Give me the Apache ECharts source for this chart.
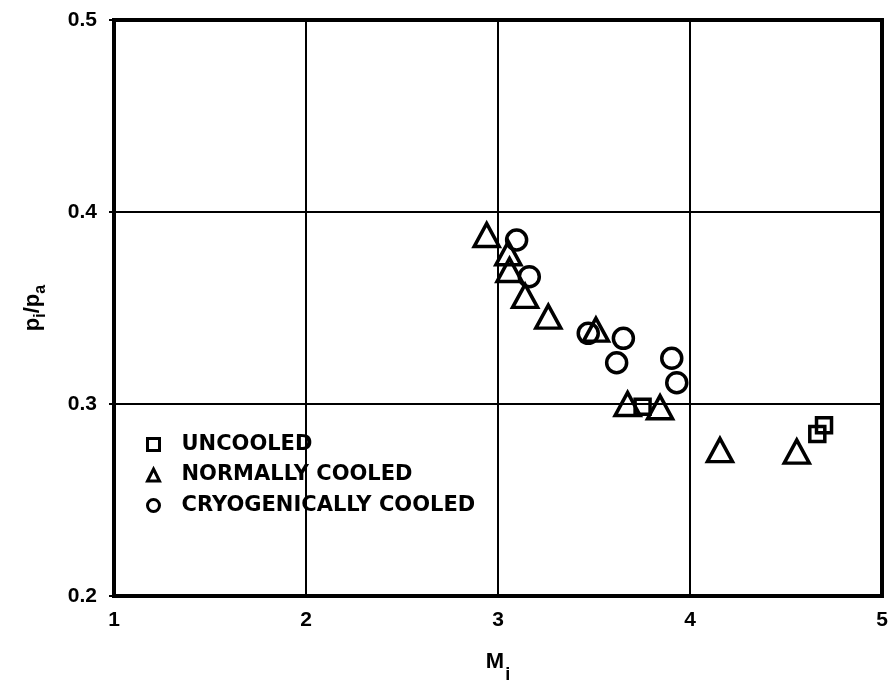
<!DOCTYPE html>
<html>
<head>
<meta charset="utf-8">
<script src="https://cdn.jsdelivr.net/npm/echarts@6/dist/echarts.min.js"></script>
<style>
  html, body { margin: 0; padding: 0; background: #fff; }
  #chart { width: 892px; height: 685px; }
</style>
</head>
<body>
<div id="chart"></div>
<script>
// Inlet Mach number M_i vs. pressure ratio p_i/p_a for three cooling conditions
const seriesNames = ['UNCOOLED', 'NORMALLY COOLED', 'CRYOGENICALLY COOLED'];

const uncooled = [
  [4.663, 0.2844],
  [4.698, 0.2889],
  [3.753, 0.2986]
];

const normallyCooled = [
  [2.941, 0.3880],
  [3.054, 0.3785],
  [3.060, 0.3698],
  [3.141, 0.3563],
  [3.262, 0.3455],
  [3.510, 0.3387],
  [3.675, 0.3000],
  [3.844, 0.2983],
  [4.156, 0.2760],
  [4.556, 0.2752]
];

const cryogenicallyCooled = [
  [3.097, 0.3854],
  [3.163, 0.3663],
  [3.470, 0.3368],
  [3.653, 0.3342],
  [3.618, 0.3215],
  [3.905, 0.3238],
  [3.931, 0.3111]
];

const xTicks = [1, 2, 3, 4, 5];
const yTicks = [0.2, 0.3, 0.4, 0.5];

const axisFont = 'Liberation Sans, Arial, sans-serif';
const legendFont = 'DejaVu Sans, sans-serif';

const hollow = {
  color: 'rgba(0,0,0,0)',
  borderColor: '#000',
  borderWidth: 3.5,
  opacity: 1
};

const chart = echarts.init(document.getElementById('chart'));

chart.setOption({
  animation: false,
  backgroundColor: '#fff',
  grid: {
    left: 114,
    right: 10,
    top: 20,
    bottom: 89,
    outerBoundsMode: 'none',
    containLabel: false,
    show: true,
    borderColor: '#000',
    borderWidth: 4,
    backgroundColor: 'rgba(0,0,0,0)'
  },
  legend: {
    orient: 'vertical',
    left: 141,
    top: 429,
    itemWidth: 12,
    itemHeight: 12,
    itemGap: 9.5,
    selectedMode: false,
    data: [
      { name: seriesNames[0], icon: 'rect' },
      { name: seriesNames[1], icon: 'triangle' },
      { name: seriesNames[2], icon: 'circle' }
    ],
    itemStyle: { color: 'rgba(0,0,0,0)', borderColor: '#000', borderWidth: 3, opacity: 1 },
    textStyle: {
      color: '#000',
      fontFamily: legendFont,
      fontWeight: 'bold',
      fontSize: 21,
      lineHeight: 20,
      padding: [0, 0, 0, 17]
    }
  },
  xAxis: {
    type: 'value',
    min: xTicks[0],
    max: xTicks[xTicks.length - 1],
    interval: 1,
    name: '{m|M}{s|i}',
    nameLocation: 'middle',
    nameGap: 53,
    nameTextStyle: {
      rich: {
        m: { fontFamily: axisFont, fontWeight: 'bold', fontSize: 22, color: '#000', verticalAlign: 'bottom', lineHeight: 24 },
        s: { fontFamily: axisFont, fontWeight: 'bold', fontSize: 18, color: '#000', verticalAlign: 'bottom', lineHeight: 18, padding: [0, 0, -11, 1] }
      }
    },
    axisLine: { show: true, onZero: false, lineStyle: { color: '#000', width: 4 } },
    axisTick: { show: false },
    axisLabel: {
      color: '#000',
      fontFamily: axisFont,
      fontWeight: 'bold',
      fontSize: 21,
      margin: 14
    },
    splitLine: { show: true, lineStyle: { color: '#000', width: 2 } }
  },
  yAxis: {
    type: 'value',
    min: yTicks[0],
    max: yTicks[yTicks.length - 1],
    interval: 0.1,
    name: '{p|p}{s|i}{p|/p}{s|a}',
    nameLocation: 'middle',
    nameRotate: 90,
    nameGap: 70,
    nameTextStyle: {
      rich: {
        p: { fontFamily: axisFont, fontWeight: 'bold', fontSize: 22, color: '#000', verticalAlign: 'bottom', lineHeight: 24 },
        s: { fontFamily: axisFont, fontWeight: 'bold', fontSize: 16, color: '#000', verticalAlign: 'bottom', lineHeight: 16, padding: [0, 0, -5, 0] }
      }
    },
    axisLine: { show: true, onZero: false, lineStyle: { color: '#000', width: 4 } },
    axisTick: { show: true, length: 5, lineStyle: { color: '#000', width: 2 } },
    axisLabel: {
      color: '#000',
      fontFamily: axisFont,
      fontWeight: 'bold',
      fontSize: 21,
      margin: 17,
      formatter: v => v.toFixed(1)
    },
    splitLine: { show: true, lineStyle: { color: '#000', width: 2 } }
  },
  series: [
    {
      name: seriesNames[0],
      type: 'scatter',
      symbol: 'rect',
      symbolSize: 15,
      itemStyle: hollow,
      data: uncooled
    },
    {
      name: seriesNames[1],
      type: 'scatter',
      symbol: 'triangle',
      symbolSize: [25, 23],
      itemStyle: hollow,
      data: normallyCooled
    },
    {
      name: seriesNames[2],
      type: 'scatter',
      symbol: 'circle',
      symbolSize: 20,
      itemStyle: hollow,
      data: cryogenicallyCooled
    }
  ]
});
</script>
</body>
</html>
